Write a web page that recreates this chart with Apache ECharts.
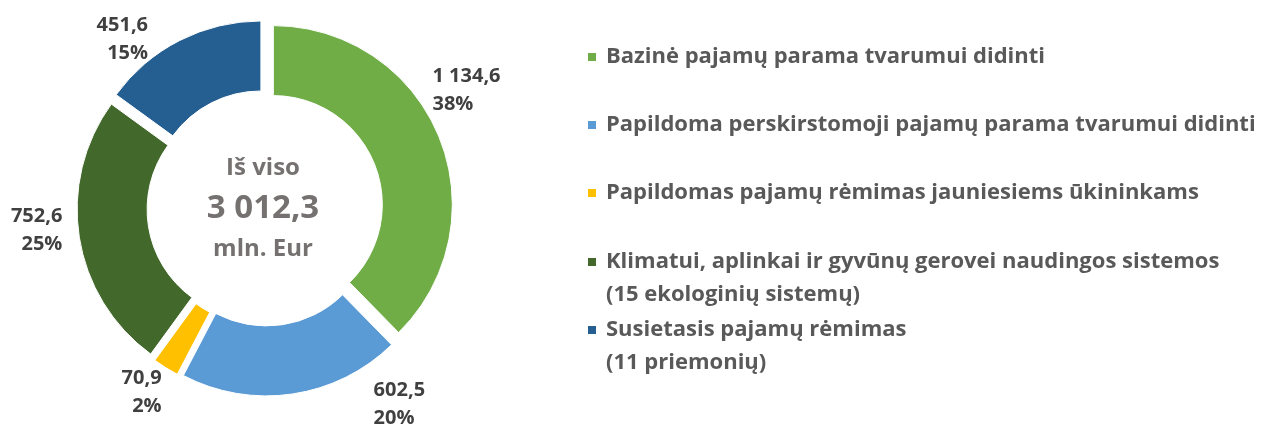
<!DOCTYPE html>
<html>
<head>
<meta charset="utf-8">
<script src="https://cdn.jsdelivr.net/npm/echarts@6/dist/echarts.min.js"></script>
<style>
  html, body { margin: 0; padding: 0; background: #fff; }
  #chart { width: 1266px; height: 425px; }
</style>
</head>
<body>
<div id="chart"></div>
<script>
// data
const categories = [
    'Bazinė pajamų parama tvarumui didinti',
    'Papildoma perskirstomoji pajamų parama tvarumui didinti',
    'Papildomas pajamų rėmimas jauniesiems ūkininkams',
    'Klimatui, aplinkai ir gyvūnų gerovei naudingos sistemos\n(15 ekologinių sistemų)',
    'Susietasis pajamų rėmimas\n(11 priemonių)'
];
const values = [1134.6, 602.5, 70.9, 752.6, 451.6];
const total = 3012.3;
const totalCaption = ['Iš viso', 'mln. Eur'];

const colors = ['#70AD47', '#5B9BD5', '#FFC000', '#43682B', '#255E91'];
// small nudges so the outside labels sit where Excel put them
const labelDx = [-19, 75, 5, -4, -23];
const labelDy = [-44, 2, 18, -8, 6];
const legendTops = [57, 125, 193, 262, 330];

const fmt = v => {
    const parts = v.toFixed(1).split('.');
    return parts[0].replace(/\B(?=(\d{3})+(?!\d))/g, ' ') + ',' + parts[1];
};

const font = '"Open Sans", "Noto Sans", sans-serif';

// square at the top of a taller box, so the marker lines up with the first text line
const tallIcon = 'path://M0,0H10V10H0ZM0,43L0.001,43Z';

const legends = categories.map((name, i) => {
    const twoLines = name.indexOf('\n') >= 0;
    return {
        data: [name],
        orient: 'vertical',
        left: 586,
        top: legendTops[i] - 16.5,
        padding: 0,
        itemWidth: 10,
        itemHeight: twoLines ? 43 : 10,
        itemGap: 0,
        icon: twoLines ? tallIcon : 'rect',
        selectedMode: false,
        textStyle: {
            fontFamily: font,
            fontWeight: 'bold',
            fontSize: 22,
            color: '#595959',
            lineHeight: 33,
            padding: [0, 0, 0, 4]
        }
    };
});

echarts.init(document.getElementById('chart'))
    .setOption({
        animation: false,
        color: colors,
        legend: legends,
        title: {
            text: '{a|' + totalCaption[0] + '}\n{b|' + fmt(total) + '}\n{a|' + totalCaption[1] + '}',
            left: 258,
            top: 204,
            textAlign: 'center',
            textVerticalAlign: 'middle',
            textStyle: {
                rich: {
                    a: { fontFamily: font, fontWeight: 'bold', fontSize: 24, color: '#767171', lineHeight: 40, align: 'center' },
                    b: { fontFamily: font, fontWeight: 'bold', fontSize: 33, color: '#767171', lineHeight: 41, align: 'center' }
                }
            }
        },
        series: [{
            type: 'pie',
            center: [265, 208],
            radius: [109, 179],
            startAngle: 90,
            clockwise: true,
            avoidLabelOverlap: false,
            selectedMode: 'multiple',
            selectedOffset: 9,
            itemStyle: { borderColor: '#fff', borderWidth: 1 },
            select: { itemStyle: { borderColor: '#fff', borderWidth: 1 } },
            emphasis: { disabled: true },
            label: {
                position: 'outside',
                fontFamily: font,
                fontWeight: 'bold',
                fontSize: 20,
                lineHeight: 28,
                color: '#404040',
                formatter: p => fmt(p.value) + '\n' + Math.round(p.percent) + '%'
            },
            labelLine: { show: false, length: 8, length2: 0 },
            labelLayout: p => ({ dx: labelDx[p.dataIndex], dy: labelDy[p.dataIndex] }),
            data: categories.map((name, i) => ({ name: name, value: values[i], selected: true }))
        }]
    });
</script>
</body>
</html>
